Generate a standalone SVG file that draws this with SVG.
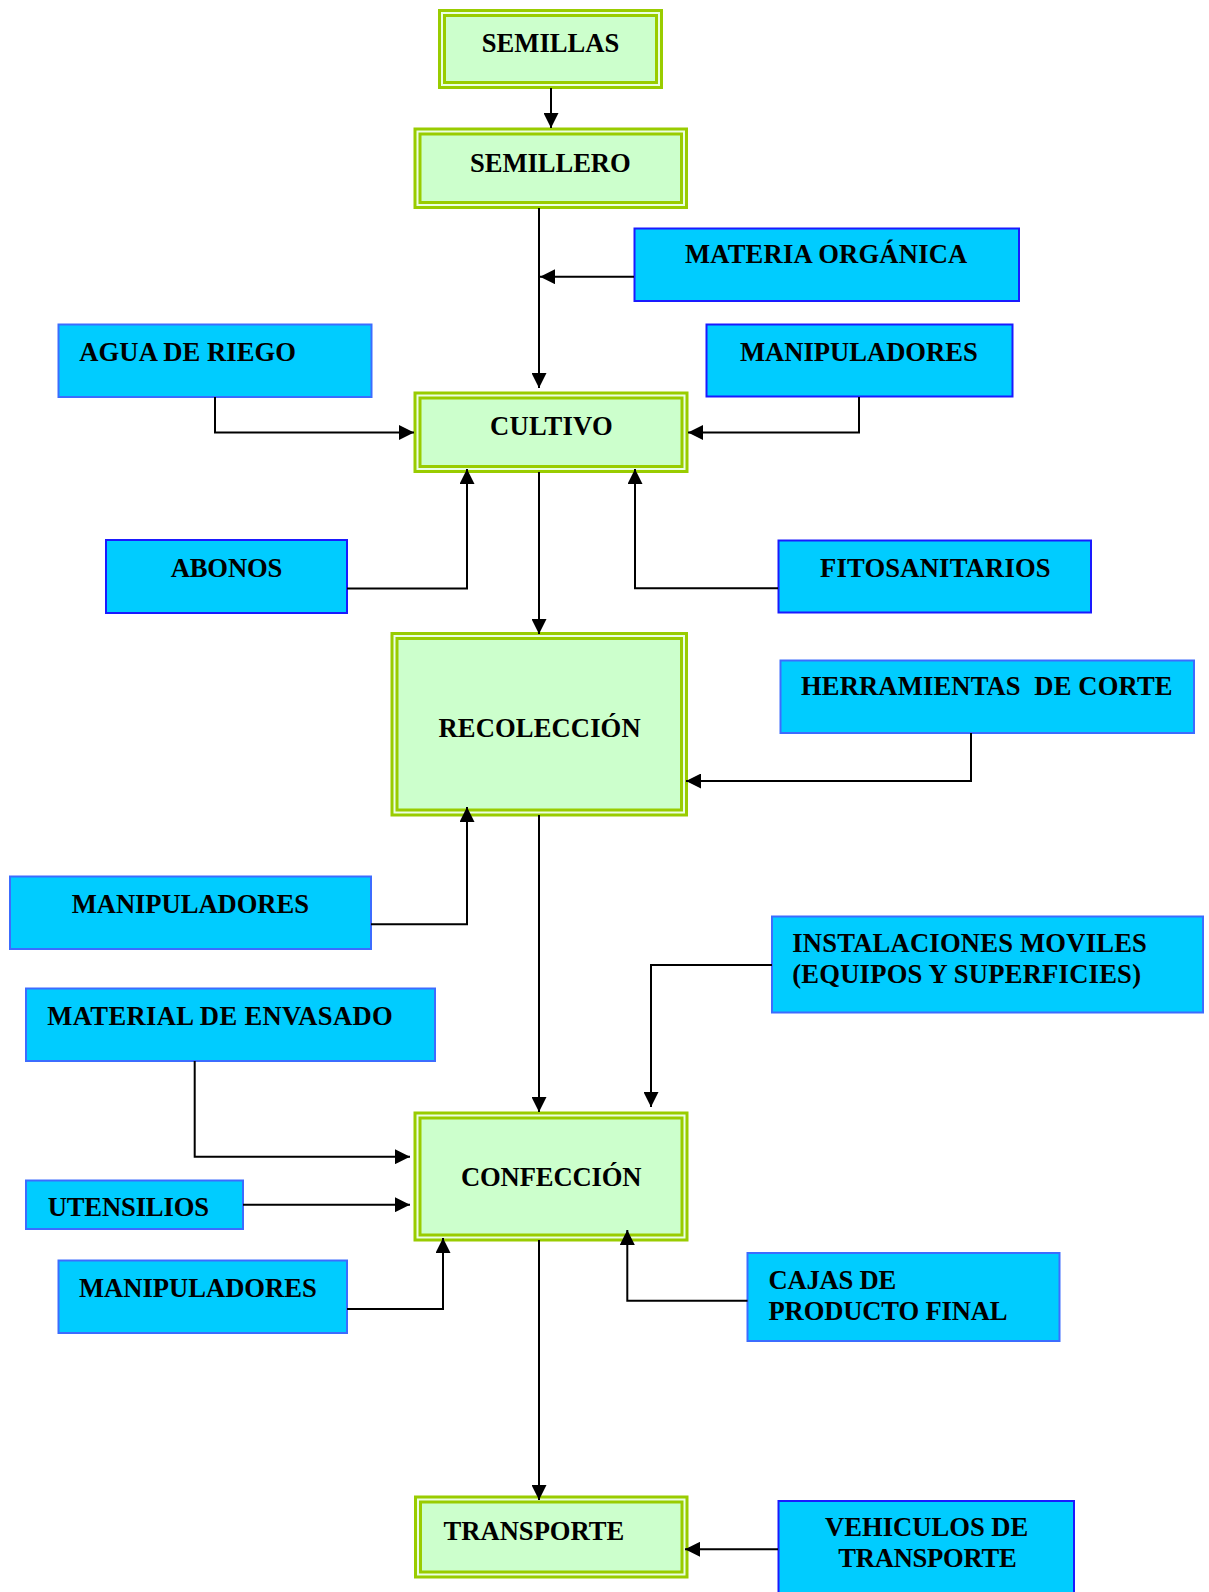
<svg xmlns="http://www.w3.org/2000/svg" width="1209" height="1592" viewBox="0 0 1209 1592">
<style>
.g-out{fill:#eaffe4;stroke:#99CC00;stroke-width:3}
.g-in{fill:#CCFFCC;stroke:#99CC00;stroke-width:3}
.b1{fill:#00CCFF;stroke:#1a1aff;stroke-width:2}
.b2{fill:#00CCFF;stroke:#3c6cff;stroke-width:2}
text{font-family:"Liberation Serif","Times New Roman",serif;font-weight:bold;font-size:26.6px;fill:#000;white-space:pre}
.c line,.c polyline{fill:none;stroke:#000;stroke-width:2;marker-end:url(#ah)}
</style>
<defs>
<marker id="ah" viewBox="0 0 15 15" refX="15" refY="7.5" markerWidth="15" markerHeight="15" markerUnits="userSpaceOnUse" orient="auto">
<path d="M0,0 L15,7.5 L0,15 z" fill="#000"/>
</marker>
</defs>
<rect width="1209" height="1592" fill="#fff"/>

<g id="n-semillas"><rect class="g-out" x="439.5" y="10.5" width="222" height="77"/><rect class="g-in" x="444.5" y="15.5" width="212" height="67"/><text x="481.7" y="52.3" textLength="137.6" lengthAdjust="spacing">SEMILLAS</text></g>
<g id="n-semillero"><rect class="g-out" x="415" y="129" width="271.5" height="78.5"/><rect class="g-in" x="420" y="134" width="261.5" height="68.5"/><text x="470" y="172.3" textLength="160.7" lengthAdjust="spacing">SEMILLERO</text></g>
<g id="n-cultivo"><rect class="g-out" x="415" y="393" width="272" height="78.5"/><rect class="g-in" x="420" y="398" width="262" height="68.5"/><text x="490" y="435" textLength="122.7" lengthAdjust="spacing">CULTIVO</text></g>
<g id="n-recoleccion"><rect class="g-out" x="392" y="633.5" width="294.5" height="181.5"/><rect class="g-in" x="397" y="638.5" width="284.5" height="171.5"/><text x="438.5" y="736.7" textLength="202.1" lengthAdjust="spacing">RECOLECCIÓN</text></g>
<g id="n-confeccion"><rect class="g-out" x="415" y="1113" width="272" height="127"/><rect class="g-in" x="420" y="1118" width="262" height="117"/><text x="461" y="1186.2" textLength="180.5" lengthAdjust="spacing">CONFECCIÓN</text></g>
<g id="n-transporte"><rect class="g-out" x="415.5" y="1497" width="271.5" height="80"/><rect class="g-in" x="420.5" y="1502" width="261.5" height="70"/><text x="443.5" y="1540" textLength="180.8" lengthAdjust="spacing">TRANSPORTE</text></g>

<g id="n-materia"><rect class="b1" x="634.5" y="228.5" width="384.5" height="72.5"/><text x="685" y="263.3" textLength="282.3" lengthAdjust="spacing">MATERIA ORGÁNICA</text></g>
<g id="n-agua"><rect class="b2" x="58.5" y="324.5" width="313" height="72.5"/><text x="79.3" y="361" textLength="216.7" lengthAdjust="spacing">AGUA DE RIEGO</text></g>
<g id="n-manip1"><rect class="b1" x="706.5" y="324.5" width="306" height="72"/><text x="740" y="361" textLength="237.7" lengthAdjust="spacing">MANIPULADORES</text></g>
<g id="n-abonos"><rect class="b1" x="106" y="540" width="241" height="73"/><text x="170.7" y="576.7" textLength="111.6" lengthAdjust="spacing">ABONOS</text></g>
<g id="n-fito"><rect class="b1" x="778.5" y="540.5" width="312.5" height="72"/><text x="820" y="576.7" textLength="230.6" lengthAdjust="spacing">FITOSANITARIOS</text></g>
<g id="n-herr"><rect class="b2" x="780.5" y="660.5" width="413.5" height="72.5"/><text x="801" y="695" textLength="371.5" lengthAdjust="spacing">HERRAMIENTAS  DE CORTE</text></g>
<g id="n-manip2"><rect class="b2" x="10" y="876.5" width="361" height="72.5"/><text x="71.7" y="913.3" textLength="237.3" lengthAdjust="spacing">MANIPULADORES</text></g>
<g id="n-instal"><rect class="b2" x="772" y="916.5" width="431" height="96"/><text x="792.2" y="951.7" textLength="354.7" lengthAdjust="spacing">INSTALACIONES MOVILES</text><text x="792.2" y="983.3" textLength="348.8" lengthAdjust="spacing">(EQUIPOS Y SUPERFICIES)</text></g>
<g id="n-material"><rect class="b2" x="26" y="988.5" width="409" height="72.5"/><text x="47.3" y="1024.5" textLength="345.4" lengthAdjust="spacing">MATERIAL DE ENVASADO</text></g>
<g id="n-utensilios"><rect class="b2" x="26" y="1180.5" width="217" height="48.5"/><text x="47.7" y="1216" textLength="161.3" lengthAdjust="spacing">UTENSILIOS</text></g>
<g id="n-cajas"><rect class="b2" x="747.5" y="1253" width="312" height="88"/><text x="768.5" y="1289.3" textLength="127.7" lengthAdjust="spacing">CAJAS DE</text><text x="768.5" y="1320" textLength="239" lengthAdjust="spacing">PRODUCTO FINAL</text></g>
<g id="n-manip3"><rect class="b2" x="58.5" y="1260.5" width="288.5" height="72.5"/><text x="79" y="1296.7" textLength="237.7" lengthAdjust="spacing">MANIPULADORES</text></g>
<g id="n-vehiculos"><rect class="b1" x="778.5" y="1501" width="295.5" height="100"/><text x="825" y="1536" textLength="203.3" lengthAdjust="spacing">VEHICULOS DE</text><text x="838.3" y="1567.3" textLength="178.4" lengthAdjust="spacing">TRANSPORTE</text></g>

<g id="connectors" class="c">
<line x1="551" y1="88" x2="551" y2="128"/>
<line x1="539" y1="208" x2="539" y2="388"/>
<line x1="634" y1="276.7" x2="540" y2="276.7"/>
<polyline points="215,397 215,432.5 414,432.5"/>
<polyline points="859,397 859,432.5 688,432.5"/>
<polyline points="347,588.5 467,588.5 467,469"/>
<polyline points="778,588.3 635,588.3 635,469"/>
<line x1="539" y1="472" x2="539" y2="634"/>
<polyline points="971,733 971,781 686,781"/>
<polyline points="371,924.3 467,924.3 467,807"/>
<line x1="539" y1="815" x2="539" y2="1112"/>
<polyline points="772,965 651,965 651,1107"/>
<polyline points="194.7,1061 194.7,1156.7 410,1156.7"/>
<line x1="243" y1="1204.7" x2="410" y2="1204.7"/>
<polyline points="347,1309 443,1309 443,1238"/>
<polyline points="747.5,1300.7 627.3,1300.7 627.3,1230"/>
<line x1="539" y1="1240" x2="539" y2="1500"/>
<line x1="778" y1="1549.3" x2="685" y2="1549.3"/>
</g>
</svg>
